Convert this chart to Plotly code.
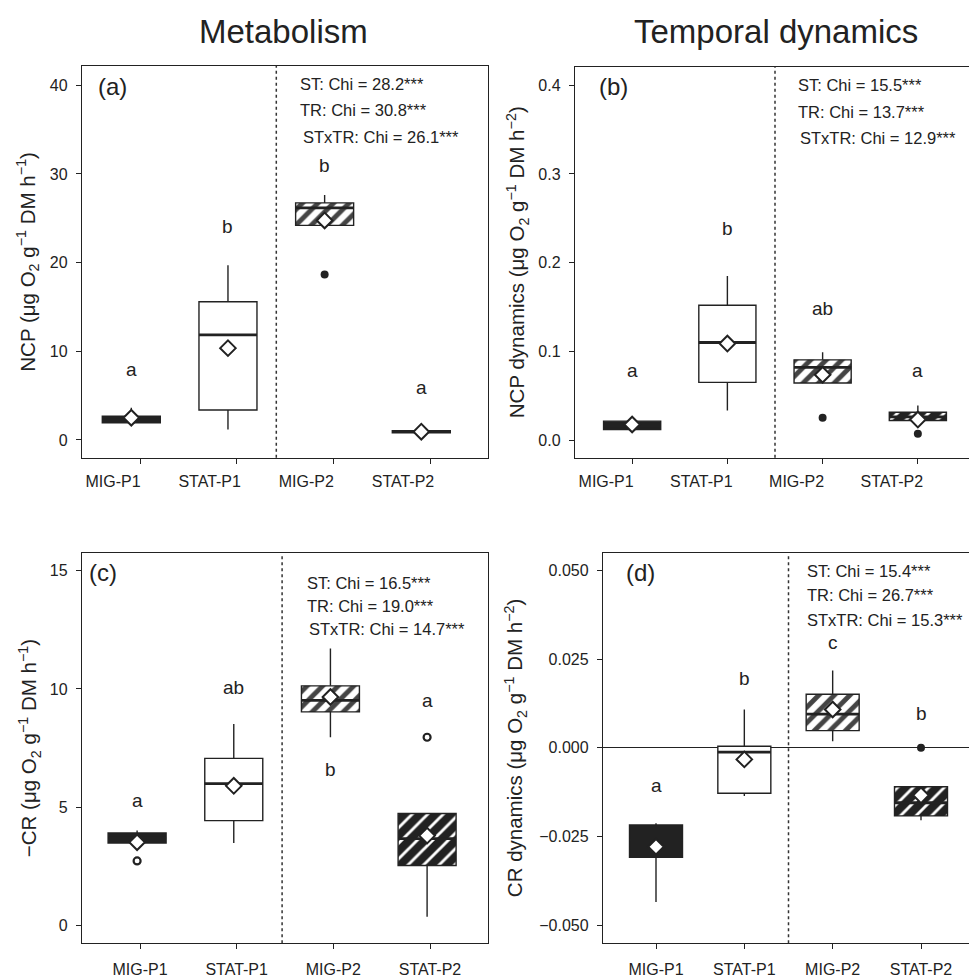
import plotly.graph_objects as go

# ---------------- data ----------------
categories = ["MIG-P1", "STAT-P1", "MIG-P2", "STAT-P2"]

# panel (a) NCP
a_q1 = [1.94, 3.37, 24.19, 0.80]
a_med = [2.30, 11.85, 26.17, 0.93]
a_q3 = [2.69, 15.59, 26.73, 1.05]
a_lo = [1.94, 1.19, 24.19, 0.80]
a_hi = [3.62, 19.70, 27.63, 1.05]
a_mean = [2.50, 10.35, 24.75, 0.93]
a_out_cat = [2]
a_out_val = [18.65]
a_letters = ["a", "b", "b", "a"]
a_letter_y = [7.92, 24.07, 31.0, 5.94]
a_chi = ["ST: Chi = 28.2***", "TR: Chi = 30.8***", "STxTR: Chi = 26.1***"]

# panel (b) NCP dynamics
b_q1 = [0.0119, 0.0650, 0.0643, 0.0220]
b_med = [0.0160, 0.1100, 0.0819, 0.0260]
b_q3 = [0.0213, 0.1520, 0.0904, 0.0314]
b_lo = [0.0119, 0.0332, 0.0643, 0.0220]
b_hi = [0.0213, 0.1850, 0.0990, 0.0389]
b_mean = [0.0175, 0.1088, 0.0736, 0.0231]
b_out_cat = [2, 3]
b_out_val = [0.025, 0.0071]
b_letters = ["a", "b", "ab", "a"]
b_letter_y = [0.078, 0.238, 0.148, 0.078]
b_chi = ["ST: Chi = 15.5***", "TR: Chi = 13.7***", "STxTR: Chi = 12.9***"]

# panel (c) -CR
c_q1 = [3.50, 4.44, 9.03, 2.55]
c_med = [3.70, 6.00, 9.52, 3.68]
c_q3 = [3.92, 7.07, 10.13, 4.74]
c_lo = [3.50, 3.50, 7.96, 0.38]
c_hi = [4.02, 8.52, 11.71, 4.74]
c_mean = [3.53, 5.91, 9.66, 3.81]
c_out_cat = [0, 3]
c_out_val = [2.74, 7.96]
c_letters = ["a", "ab", "b", "a"]
c_letter_y = [5.27, 10.08, 6.6, 9.52]
c_chi = ["ST: Chi = 16.5***", "TR: Chi = 19.0***", "STxTR: Chi = 14.7***"]

# panel (d) CR dynamics
d_q1 = [-0.03085, -0.0128, 0.00486, -0.0192]
d_med = [-0.0260, -0.00122, 0.00952, -0.0155]
d_q3 = [-0.02177, 0.00046, 0.01513, -0.0110]
d_lo = [-0.0435, -0.0136, 0.00187, -0.0204]
d_hi = [-0.0213, 0.0108, 0.0218, -0.0110]
d_mean = [-0.0279, -0.00327, 0.0108, -0.0134]
d_out_cat = [3]
d_out_val = [0.0]
d_letters = ["a", "b", "c", "b"]
d_letter_y = [-0.0106, 0.0196, 0.0296, 0.00963]
d_chi = ["ST: Chi = 15.4***", "TR: Chi = 26.7***", "STxTR: Chi = 15.3***"]

titles_top = ["Metabolism", "Temporal dynamics"]
ytitles = [
    "NCP (μg O<sub>2</sub> g<sup>−1</sup> DM h<sup>−1</sup>)",
    "NCP dynamics (μg O<sub>2</sub> g<sup>−1</sup> DM h<sup>−2</sup>)",
    "−CR (μg O<sub>2</sub> g<sup>−1</sup> DM h<sup>−1</sup>)",
    "CR dynamics (μg O<sub>2</sub> g<sup>−1</sup> DM h<sup>−2</sup>)",
]
panel_tags = ["(a)", "(b)", "(c)", "(d)"]

# ---------------- layout helpers ----------------
OFF = 8                      # default body margin of the html page
W, H = 977 - OFF, 978 - OFF  # figure size so that the page fits the window
FONT = "Liberation Sans, Arial, Helvetica, sans-serif"
INK = "#222222"


def px(x):
    return (x - OFF) / W


def py(y):
    return 1 - (y - OFF) / H


# screen-pixel boxes of the four panels: (left, right, top, bottom)
boxes = [(82, 488, 66, 460), (575, 975, 67, 460), (82, 488, 556, 948), (603, 974, 556, 948)]
yranges = [[-2.0, 42.2], [-0.0199, 0.421], [-0.73, 15.73], [-0.0551, 0.0549]]
dticks = [10, 0.1, 5, 0.025]
tickfmts = ["d", ".1f", "d", ".3f"]
shifts = [-0.09, 0.0, -0.03, 0.0]
label_shift = [-27, -26, 0, 0]
label_standoff = [4, 4, 6, 6]

fills = [INK, "white", "white", INK]
pat_shape = ["", "", "/", "/"]
pat_fg = [INK, INK, "black", "white"]
pat_bg = [INK, "white", "white", INK]

panels = [
    (a_q1, a_med, a_q3, a_lo, a_hi, a_mean, a_out_cat, a_out_val, False, a_letters, a_letter_y, a_chi),
    (b_q1, b_med, b_q3, b_lo, b_hi, b_mean, b_out_cat, b_out_val, False, b_letters, b_letter_y, b_chi),
    (c_q1, c_med, c_q3, c_lo, c_hi, c_mean, c_out_cat, c_out_val, True, c_letters, c_letter_y, c_chi),
    (d_q1, d_med, d_q3, d_lo, d_hi, d_mean, d_out_cat, d_out_val, False, d_letters, d_letter_y, d_chi),
]
chi_pos = [
    [(298, 84), (298, 110.7), (301, 137.3)],
    [(796, 85.7), (796, 112.3), (798, 139)],
    [(304.5, 585.7), (304.5, 609), (306.5, 632.3)],
    [(805, 574), (805, 598.3), (805, 623.3)],
]
tag_pos = [(96, 87), (597, 87), (87, 575), (624, 575)]
ytitle_x = [28, 517, 29, 515]

fig = go.Figure()
annotations = []
shapes = []
layout_axes = {}

for k, (q1, med, q3, lo, hi, mean, ocat, oval, oopen, letters, ly, chi) in enumerate(panels):
    n = k + 1
    xa = "x" if n == 1 else f"x{n}"
    ya = "y" if n == 1 else f"y{n}"
    sh = shifts[k]
    xs = [i + 1 + sh for i in range(len(categories))]

    # boxes
    fig.add_trace(go.Bar(
        x=xs, base=q1, y=[b - a for a, b in zip(q1, q3)], width=0.6,
        marker=dict(color=fills,
                    pattern=dict(shape=pat_shape, fgcolor=pat_fg, bgcolor=pat_bg, fgopacity=1,
                                 size=[8, 8, 11, 11], solidity=[0.3, 0.3, 0.45, 0.26]),
                    line=dict(color=INK, width=1.4)),
        xaxis=xa, yaxis=ya, showlegend=False, hoverinfo="skip"))

    # whiskers
    wx, wy = [], []
    for x, a, b, l, h in zip(xs, q1, q3, lo, hi):
        wx += [x, x, None, x, x, None]
        wy += [b, h, None, a, l, None]
    fig.add_trace(go.Scatter(x=wx, y=wy, mode="lines", line=dict(color=INK, width=1.4),
                             xaxis=xa, yaxis=ya, showlegend=False, hoverinfo="skip"))

    # medians
    mx, my = [], []
    for x, m in zip(xs, med):
        mx += [x - 0.3, x + 0.3, None]
        my += [m, m, None]
    fig.add_trace(go.Scatter(x=mx, y=my, mode="lines", line=dict(color=INK, width=2.8),
                             xaxis=xa, yaxis=ya, showlegend=False, hoverinfo="skip"))

    # outliers
    fig.add_trace(go.Scatter(
        x=[xs[i] for i in ocat], y=oval, mode="markers",
        marker=dict(symbol="circle", size=7 if oopen else 8,
                    color="white" if oopen else INK,
                    line=dict(color=INK, width=2.2 if oopen else 0)),
        xaxis=xa, yaxis=ya, showlegend=False, hoverinfo="skip"))

    # means
    fig.add_trace(go.Scatter(
        x=xs, y=mean, mode="markers",
        marker=dict(symbol="diamond", size=12, color="white", line=dict(color=INK, width=2)),
        xaxis=xa, yaxis=ya, showlegend=False, hoverinfo="skip"))

    # significance letters
    for x, t, yv in zip(xs, letters, ly):
        annotations.append(dict(x=x, y=yv, xref=xa, yref=ya, text=t, showarrow=False,
                                font=dict(family=FONT, size=19, color=INK)))

    # chi statistics
    for t, (cx, cy) in zip(chi, chi_pos[k]):
        annotations.append(dict(x=px(cx), y=py(cy), xref="paper", yref="paper", text=t,
                                showarrow=False, xanchor="left", yanchor="middle",
                                font=dict(family=FONT, size=16.5, color=INK)))

    # panel tag
    annotations.append(dict(x=px(tag_pos[k][0]), y=py(tag_pos[k][1]), xref="paper", yref="paper",
                            text=panel_tags[k], showarrow=False, xanchor="left", yanchor="middle",
                            font=dict(family=FONT, size=24, color=INK)))

    # y title
    l, r, t, b = boxes[k]
    annotations.append(dict(x=px(ytitle_x[k]), y=py((t + b) / 2), xref="paper", yref="paper",
                            text=ytitles[k], showarrow=False, textangle=-90,
                            xanchor="center", yanchor="middle",
                            font=dict(family=FONT, size=20.5, color=INK)))

    # dotted separator between P1 and P2
    shapes.append(dict(type="line", xref=xa, yref=f"{ya} domain", x0=2.5 + sh, x1=2.5 + sh,
                       y0=0, y1=1, line=dict(color="#333333", width=1.5, dash="dot")))

    axis_common = dict(showline=True, mirror=True, linecolor=INK, linewidth=1.4,
                       ticks="outside", ticklen=5, tickwidth=1.3, tickcolor=INK,
                       showgrid=False, tickfont=dict(family=FONT, size=16, color=INK))
    xkey = "xaxis" if n == 1 else f"xaxis{n}"
    ykey = "yaxis" if n == 1 else f"yaxis{n}"
    layout_axes[xkey] = dict(axis_common, domain=[px(l), px(r)], range=[0.4, 4.6],
                             tickvals=[1, 2, 3, 4], ticktext=categories, anchor=ya,
                             zeroline=False, ticklabelshift=label_shift[k],
                             ticklabelstandoff=label_standoff[k])
    layout_axes[ykey] = dict(axis_common, domain=[py(b), py(t)], range=yranges[k],
                             dtick=dticks[k], tick0=0, tickformat=tickfmts[k], anchor=xa,
                             zeroline=(n == 4), zerolinecolor=INK, zerolinewidth=1.4,
                             ticklabelstandoff=5)

# column titles
for t, cx in zip(titles_top, [283, 776]):
    annotations.append(dict(x=px(cx), y=py(32), xref="paper", yref="paper", text=t,
                            showarrow=False, xanchor="center", yanchor="middle",
                            font=dict(family=FONT, size=33, color=INK)))

fig.update_layout(
    width=W, height=H, margin=dict(l=0, r=0, t=0, b=0),
    paper_bgcolor="white", plot_bgcolor="white",
    annotations=annotations, shapes=shapes, **layout_axes)

fig.write_html("out.html")
